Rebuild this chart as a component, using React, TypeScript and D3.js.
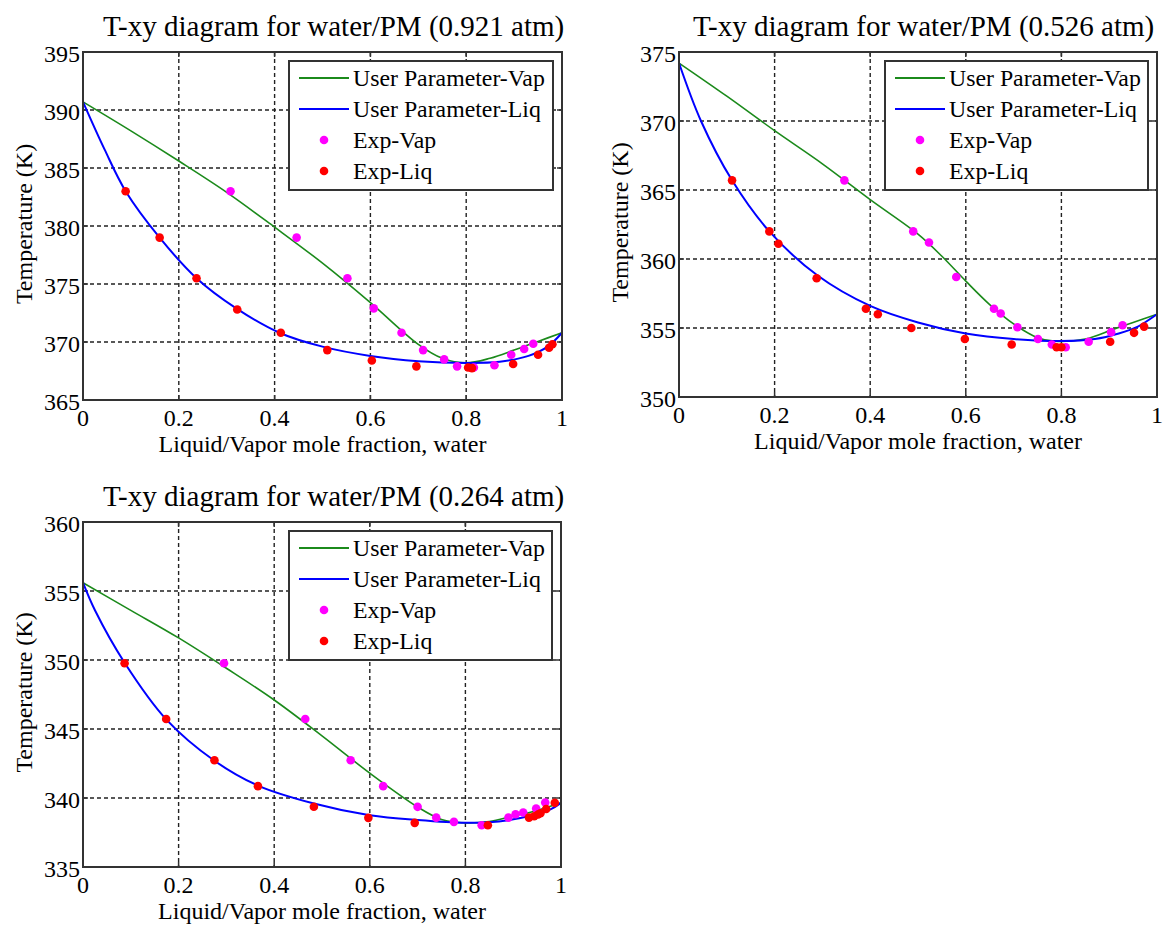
import React from "react";
import * as d3 from "d3";

// x ticks shared by all panels
const xTicks = [0, 0.2, 0.4, 0.6, 0.8, 1];
const xTickLabels = ["0", "0.2", "0.4", "0.6", "0.8", "1"];

// ---- 0.921 atm ----
const p1Ticks = [365, 370, 375, 380, 385, 390, 395];
const p1Vap: [number, number][] = [
  [0, 390.7], [0.1, 388.2], [0.2, 385.6], [0.3, 382.9], [0.4, 379.9], [0.5, 376.8],
  [0.6, 373.4], [0.7, 369.8], [0.75, 368.6], [0.8, 368.2], [0.85, 368.6], [0.9, 369.3],
  [0.95, 370.05], [1, 370.8],
];
const p1Liq: [number, number][] = [
  [0, 390.7], [0.045, 386.6], [0.089, 383.0], [0.16, 379.0], [0.237, 375.5], [0.32, 372.9],
  [0.41, 370.8], [0.5, 369.6], [0.6, 368.8], [0.7, 368.35], [0.8, 368.2], [0.87, 368.3],
  [0.93, 368.8], [0.97, 369.6], [1, 370.8],
];
const p1ExpVap: [number, number][] = [
  [0.308, 383.0], [0.446, 379.0], [0.552, 375.5], [0.607, 372.9], [0.665, 370.8],
  [0.71, 369.3], [0.754, 368.5], [0.781, 367.9], [0.816, 367.8], [0.859, 368.0],
  [0.894, 368.9], [0.921, 369.4], [0.94, 369.85],
];
const p1ExpLiq: [number, number][] = [
  [0.089, 383.0], [0.16, 379.0], [0.237, 375.5], [0.322, 372.8], [0.413, 370.8],
  [0.51, 369.3], [0.603, 368.4], [0.696, 367.9], [0.804, 367.8], [0.812, 367.75],
  [0.898, 368.1], [0.95, 368.9], [0.973, 369.5], [0.98, 369.8],
];

// ---- 0.526 atm ----
const p2Ticks = [350, 355, 360, 365, 370, 375];
const p2Vap: [number, number][] = [
  [0, 374.2], [0.1, 371.8], [0.2, 369.3], [0.3, 366.9], [0.4, 364.3], [0.5, 361.8],
  [0.55, 360.2], [0.6, 358.4], [0.65, 356.7], [0.7, 355.3], [0.75, 354.3], [0.785, 354.05],
  [0.85, 354.2], [0.908, 354.9], [0.95, 355.4], [1, 356.0],
];
const p2Liq: [number, number][] = [
  [0, 374.2], [0.046, 370.0], [0.111, 365.7], [0.189, 362.0], [0.29, 358.8], [0.4, 356.6],
  [0.5, 355.4], [0.6, 354.6], [0.7, 354.2], [0.8, 354.05], [0.87, 354.2], [0.92, 354.6],
  [0.96, 355.1], [1, 356.0],
];
const p2ExpVap: [number, number][] = [
  [0.346, 365.7], [0.49, 362.0], [0.523, 361.2], [0.58, 358.7], [0.659, 356.4],
  [0.673, 356.05], [0.708, 355.05], [0.751, 354.2], [0.78, 353.8], [0.809, 353.6],
  [0.857, 354.0], [0.904, 354.7], [0.928, 355.2],
];
const p2ExpLiq: [number, number][] = [
  [0.111, 365.7], [0.189, 362.0], [0.208, 361.1], [0.288, 358.6], [0.391, 356.4],
  [0.416, 356.0], [0.486, 355.0], [0.598, 354.2], [0.696, 353.8], [0.79, 353.6],
  [0.8, 353.6], [0.902, 354.0], [0.952, 354.65], [0.973, 355.1],
];

// ---- 0.264 atm ----
const p3Ticks = [335, 340, 345, 350, 355, 360];
const p3Vap: [number, number][] = [
  [0, 355.6], [0.1, 353.6], [0.2, 351.6], [0.3, 349.4], [0.4, 347.1], [0.5, 344.5],
  [0.6, 341.8], [0.7, 339.35], [0.75, 338.45], [0.8, 338.2], [0.85, 338.3], [0.9, 338.7],
  [0.95, 339.1], [1, 339.65],
];
const p3Liq: [number, number][] = [
  [0, 355.6], [0.025, 353.6], [0.087, 349.8], [0.174, 345.7], [0.275, 342.7],
  [0.366, 340.9], [0.483, 339.6], [0.6, 338.75], [0.7, 338.4], [0.8, 338.2], [0.87, 338.3],
  [0.94, 338.75], [0.979, 339.2], [1, 339.65],
];
const p3ExpVap: [number, number][] = [
  [0.295, 349.76], [0.465, 345.72], [0.56, 342.74], [0.628, 340.86], [0.7, 339.36],
  [0.739, 338.58], [0.776, 338.27], [0.834, 338.03], [0.89, 338.58], [0.905, 338.82],
  [0.921, 338.95], [0.948, 339.24], [0.967, 339.67],
];
const p3ExpLiq: [number, number][] = [
  [0.087, 349.76], [0.174, 345.72], [0.275, 342.74], [0.366, 340.86], [0.483, 339.37],
  [0.597, 338.56], [0.694, 338.2], [0.847, 338.03], [0.933, 338.58], [0.944, 338.68],
  [0.952, 338.8], [0.957, 338.9], [0.969, 339.2], [0.987, 339.65],
];

const legendLabels = ["User Parameter-Vap", "User Parameter-Liq", "Exp-Vap", "Exp-Liq"];

const FONT = "'Liberation Serif', 'Times New Roman', serif";
const GREEN = "#1b8a1b";
const BLUE = "#0000ff";
const MAGENTA = "#ff00ff";
const RED = "#ff0000";

type PanelProps = {
  title: string;
  left: number;
  top: number;
  width: number;
  height: number;
  titleX: number;
  yTicks: number[];
  vap: [number, number][];
  liq: [number, number][];
  expVap: [number, number][];
  expLiq: [number, number][];
};

function Panel({ title, left, top, width, height, titleX, yTicks, vap, liq, expVap, expLiq }: PanelProps) {
  const x = d3.scaleLinear().domain([0, 1]).range([left, left + width]);
  const y = d3.scaleLinear().domain([yTicks[0], yTicks[yTicks.length - 1]]).range([top + height, top]);
  const line = d3.line<[number, number]>().x(d => x(d[0])).y(d => y(d[1])).curve(d3.curveCatmullRom.alpha(0.5));
  const right = left + width;
  const bottom = top + height;
  const tickLen = 5;

  const lgX = left + 206;
  const lgY = top + 9;
  const lgW = width - 215;
  const lgH = 129;
  const rows = [17, 48, 79, 110];

  return (
    <g>
      <text x={titleX} y={top - 16} fontFamily={FONT} fontSize={29} fill="#000">{title}</text>

      {/* grid */}
      {xTicks.slice(1, -1).map(t => (
        <line key={"gx" + t} x1={x(t)} x2={x(t)} y1={top} y2={bottom} stroke="#222" strokeWidth={1.4} strokeDasharray="4,3" />
      ))}
      {yTicks.slice(1, -1).map(t => (
        <line key={"gy" + t} x1={left} x2={right} y1={y(t)} y2={y(t)} stroke="#222" strokeWidth={1.4} strokeDasharray="4,3" />
      ))}

      {/* inner ticks */}
      {xTicks.map(t => (
        <g key={"tx" + t}>
          <line x1={x(t)} x2={x(t)} y1={bottom} y2={bottom - tickLen} stroke="#333" strokeWidth={1.5} />
          <line x1={x(t)} x2={x(t)} y1={top} y2={top + tickLen} stroke="#333" strokeWidth={1.5} />
        </g>
      ))}
      {yTicks.map(t => (
        <g key={"ty" + t}>
          <line x1={left} x2={left + tickLen} y1={y(t)} y2={y(t)} stroke="#333" strokeWidth={1.5} />
          <line x1={right} x2={right - tickLen} y1={y(t)} y2={y(t)} stroke="#333" strokeWidth={1.5} />
        </g>
      ))}

      {/* curves */}
      <path d={line(vap) || ""} fill="none" stroke={GREEN} strokeWidth={1.6} />
      <path d={line(liq) || ""} fill="none" stroke={BLUE} strokeWidth={2} />
      {expVap.map((d, i) => (
        <circle key={"ev" + i} cx={x(d[0])} cy={y(d[1])} r={4.3} fill={MAGENTA} />
      ))}
      {expLiq.map((d, i) => (
        <circle key={"el" + i} cx={x(d[0])} cy={y(d[1])} r={4.3} fill={RED} />
      ))}

      {/* box */}
      <rect x={left} y={top} width={width} height={height} fill="none" stroke="#333" strokeWidth={2} />

      {/* tick labels */}
      {xTicks.map((t, i) => (
        <text key={"lx" + t} x={x(t)} y={bottom + 26} textAnchor="middle" fontFamily={FONT} fontSize={24}>{xTickLabels[i]}</text>
      ))}
      {yTicks.map(t => (
        <text key={"ly" + t} x={left - 3} y={y(t) + 2} textAnchor="end" dominantBaseline="central" fontFamily={FONT} fontSize={24}>{t}</text>
      ))}

      {/* axis labels */}
      <text x={(left + right) / 2} y={bottom + 52} textAnchor="middle" fontFamily={FONT} fontSize={24}>
        Liquid/Vapor mole fraction, water
      </text>
      <text transform={`translate(${left - 59},${(top + bottom) / 2 - 2}) rotate(-90)`} textAnchor="middle" dominantBaseline="central" fontFamily={FONT} fontSize={24}>
        Temperature (K)
      </text>

      {/* legend */}
      <rect x={lgX} y={lgY} width={lgW} height={lgH} fill="#fff" stroke="#333" strokeWidth={2} />
      <line x1={lgX + 10} x2={lgX + 60} y1={lgY + rows[0]} y2={lgY + rows[0]} stroke={GREEN} strokeWidth={2} />
      <line x1={lgX + 10} x2={lgX + 60} y1={lgY + rows[1]} y2={lgY + rows[1]} stroke={BLUE} strokeWidth={2} />
      <circle cx={lgX + 35} cy={lgY + rows[2]} r={4.3} fill={MAGENTA} />
      <circle cx={lgX + 35} cy={lgY + rows[3]} r={4.3} fill={RED} />
      {legendLabels.map((l, i) => (
        <text key={l} x={lgX + 64} y={lgY + rows[i]} dominantBaseline="central" fontFamily={FONT} fontSize={23.8}>{l}</text>
      ))}
    </g>
  );
}

export default function App() {
  return (
    <svg width={1164} height={926} style={{ position: "absolute", left: 0, top: 0, background: "#fff" }}>
      <Panel title="T-xy diagram for water/PM (0.921 atm)" left={83} top={52} width={479} height={348} titleX={103}
        yTicks={p1Ticks} vap={p1Vap} liq={p1Liq} expVap={p1ExpVap} expLiq={p1ExpLiq} />
      <Panel title="T-xy diagram for water/PM (0.526 atm)" left={679} top={52} width={478} height={345} titleX={693}
        yTicks={p2Ticks} vap={p2Vap} liq={p2Liq} expVap={p2ExpVap} expLiq={p2ExpLiq} />
      <Panel title="T-xy diagram for water/PM (0.264 atm)" left={83} top={522} width={478} height={345} titleX={103}
        yTicks={p3Ticks} vap={p3Vap} liq={p3Liq} expVap={p3ExpVap} expLiq={p3ExpLiq} />
    </svg>
  );
}
